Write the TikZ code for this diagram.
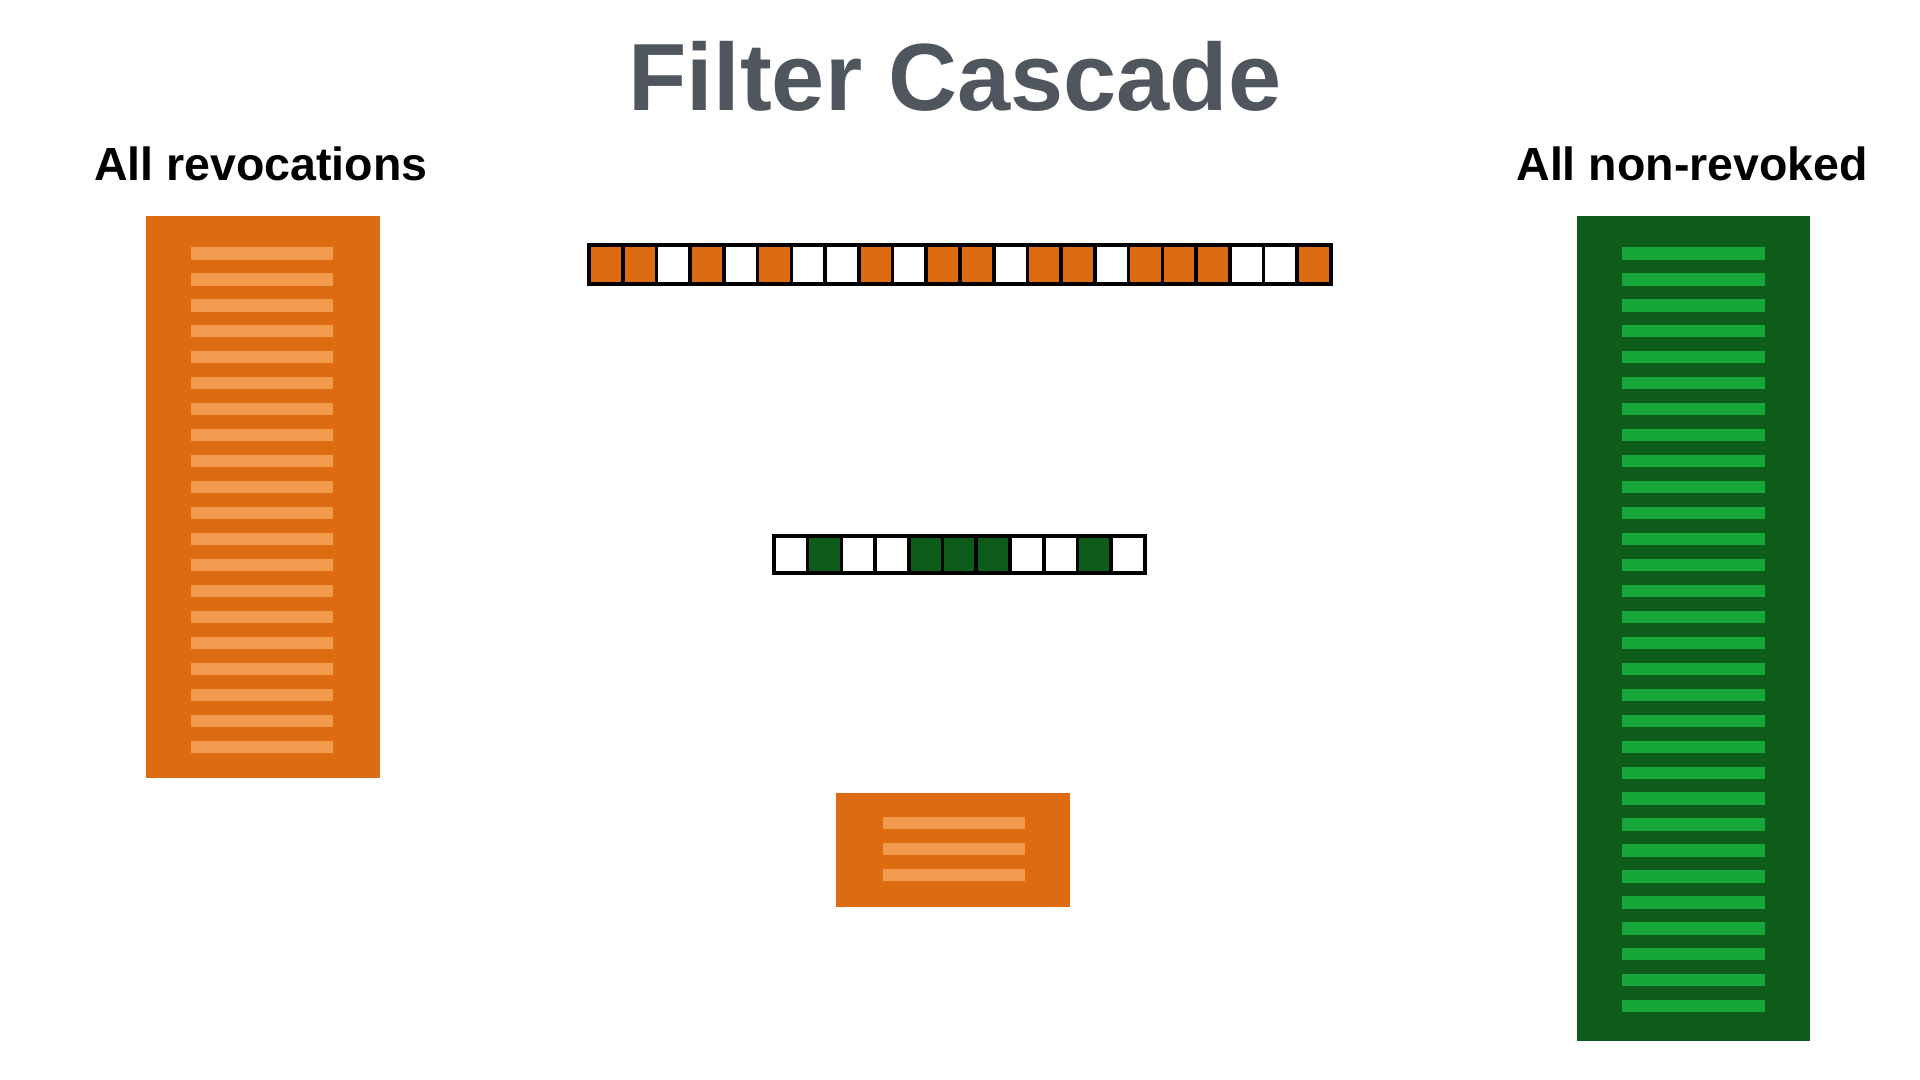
\documentclass[tikz,border=0pt]{standalone}
\usepackage{fontspec}
\setmainfont{Liberation Sans}
\definecolor{org}{HTML}{DD6B12}
\definecolor{orgl}{HTML}{F29A4E}
\definecolor{dgr}{HTML}{0E5C1A}
\definecolor{lgr}{HTML}{17A63A}
\definecolor{ttl}{HTML}{50565E}
\begin{document}
\begin{tikzpicture}[x=1pt,y=-1pt,
  lbl/.style={font=\bfseries\fontsize{38}{40}\selectfont,inner sep=0pt}]
\useasboundingbox (0,0) rectangle (1568,882);
\node[font=\bfseries\fontsize{78}{80}\selectfont,text=ttl,inner sep=0pt] (title) at (780,62) {Filter Cascade};
\node[lbl] (l1) at (213,134) {All revocations};
\node[lbl] (l2) at (1382,134) {All non-revoked};
% left block
\fill[org] (119,176) rectangle (310,635);
\foreach \i in {0,...,19} \fill[orgl] (156,{202+\i*21.2}) rectangle (272,{212+\i*21.2});
% right block
\fill[dgr] (1288,176) rectangle (1478,850);
\foreach \i in {0,...,29} \fill[lgr] (1325,{202+\i*21.2}) rectangle (1441,{212+\i*21.2});
% small block
\fill[org] (683,648) rectangle (874,741);
\foreach \i in {0,1,2} \fill[orgl] (721,{667+\i*21.2}) rectangle (837,{677+\i*21.2});
% top bar
\foreach \c [count=\k from 0] in {1,1,0,1,0,1,0,0,1,0,1,1,0,1,1,0,1,1,1,0,0,1}{
  \ifnum\c=1 \fill[org] ({481+\k*27.545},200) rectangle ({481+(\k+1)*27.545},232);\fi
  \draw[line width=3] ({481+\k*27.545},200) rectangle ({481+(\k+1)*27.545},232);
}
% middle bar
\foreach \c [count=\k from 0] in {0,1,0,0,1,1,1,0,0,1,0}{
  \ifnum\c=1 \fill[dgr] ({632+\k*27.545},438) rectangle ({632+(\k+1)*27.545},468);\fi
  \draw[line width=3] ({632+\k*27.545},438) rectangle ({632+(\k+1)*27.545},468);
}
\end{tikzpicture}
\end{document}
